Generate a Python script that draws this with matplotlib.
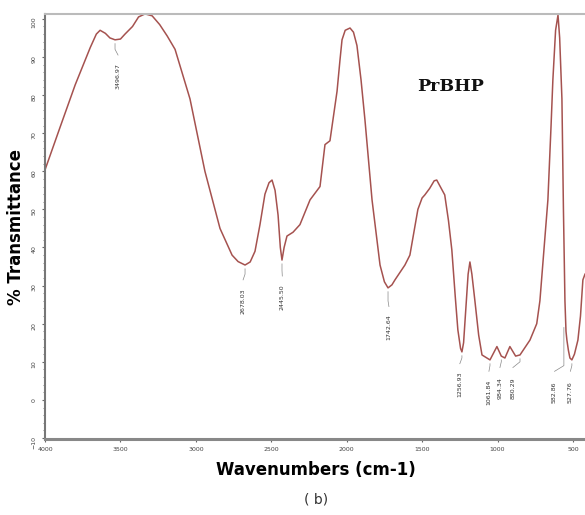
import matplotlib.pyplot as plt
from matplotlib.ticker import MultipleLocator

# spectrum: wavenumber (cm-1) and % transmittance
wavenumber = [4000, 3900, 3800, 3700, 3660, 3635, 3600, 3570, 3536, 3500, 3470,
              3420, 3380, 3337, 3290, 3240, 3190, 3138, 3039, 2940, 2840, 2760,
              2720, 2674, 2640, 2608, 2575, 2542, 2515, 2495, 2475, 2455, 2440,
              2429, 2415, 2396, 2356, 2310, 2243, 2177, 2144, 2111, 2064, 2045,
              2031, 2010, 1978, 1955, 1932, 1905, 1879, 1832, 1779, 1750, 1726,
              1700, 1680, 1614, 1581, 1528, 1500, 1482, 1450, 1420, 1403, 1380,
              1350, 1325, 1303, 1280, 1263, 1245, 1236, 1225, 1210, 1195, 1183,
              1170, 1150, 1125, 1103, 1050, 1004, 975, 951, 918, 880, 851, 785,
              740, 719, 666, 645, 633, 615, 599, 588, 573, 563, 553, 546, 540,
              530, 520, 507, 490, 467, 450, 434, 420]
transmittance = [60.4, 71.6, 82.7, 92.5, 96, 97, 96.2, 95, 94.5, 94.7, 96,
                 98, 100.5, 101.3, 100.8, 98.5, 95.5, 92, 79, 60, 45, 38,
                 36.3, 35.4, 36.2, 39, 46, 54, 57, 57.7, 55, 48.5, 40,
                 36.7, 40, 43, 44, 46, 52.5, 56, 67, 68, 81, 89,
                 94.5, 97, 97.6, 96.5, 93, 84, 73.5, 52.5, 35.4, 31, 29.4,
                 30.2, 31.5, 35.4, 38, 50, 53, 53.8, 55.5, 57.5, 57.7, 56,
                 53.8, 47, 39.4, 27, 18.4, 13.5, 12.6, 15, 24, 33, 36.2,
                 33, 26, 17, 11.8, 10.5, 14, 11.5, 11, 14, 11.5, 11.8, 15.7,
                 20, 26, 52.5, 72, 84, 97, 101, 95, 79, 50, 26, 18, 15.7,
                 13, 11, 10.5, 12, 15.7, 22, 31.5, 33]

# peak labels: text, wavenumber of the mark, curve value, label centre
peak_names = ["3496.97", "2678.03", "2445.50", "1742.64", "1256.93",
              "1061.84", "984.34", "880.29", "582.86", "527.76"]
peak_x = [3536, 2674, 2429, 1726, 1236, 1050, 975, 851, 560, 507]
peak_y = [94.5, 35.4, 36.7, 29.4, 12.6, 10.5, 11.5, 11.8, 20, 10.5]
label_x = [3516, 2687, 2427, 1720, 1250, 1057, 984, 898, 622, 517]
label_y = [85, 26, 27, 19, 4, 2, 3, 3, 2, 2]

y_ticks = [-10, 0, 10, 20, 30, 40, 50, 60, 70, 80, 90, 100]
x_ticks = [4000, 3500, 3000, 2500, 2000, 1500, 1000, 500]

fig = plt.figure(figsize=(5.85, 5.15), dpi=100)
ax = fig.add_axes([0.077, 0.148, 0.923, 0.825])

ax.plot(wavenumber, transmittance, color="#a5524f", lw=1.1)

for name, px, py, lx, ly in zip(peak_names, peak_x, peak_y, label_x, label_y):
    ax.plot([px, px, lx], [py - 1, ly + 7, ly + 5.5], color="#888888", lw=0.5)
    ax.text(lx, ly, name, rotation=90, fontsize=4.5, color="#333333",
            ha="center", va="center")

ax.set_xlim(4000, 420)
ax.set_ylim(-10.2, 101.3)
ax.set_xticks(x_ticks)
ax.set_yticks(y_ticks)
ax.yaxis.set_minor_locator(MultipleLocator(2))
ax.tick_params(axis="both", labelsize=4.5, labelcolor="#444444", colors="#666666",
               length=2.5, width=0.8)
ax.tick_params(axis="y", which="minor", length=1.5, color="#777777")
ax.tick_params(axis="y", labelrotation=90)

ax.spines["left"].set_color("#777777")
ax.spines["left"].set_linewidth(1.5)
ax.spines["bottom"].set_color("#888888")
ax.spines["bottom"].set_linewidth(2.2)
ax.spines["top"].set_color("#bbbbbb")
ax.spines["top"].set_linewidth(1.5)
ax.spines["right"].set_visible(False)

ax.text(1530, 81, "PrBHP", fontsize=12.5, fontweight="bold", family="DejaVu Serif",
        color="#111111")

fig.text(0.028, 0.56, "% Transmittance", rotation=90, fontsize=12,
         fontweight="bold", ha="center", va="center")
fig.text(0.54, 0.087, "Wavenumbers (cm-1)", fontsize=12, fontweight="bold",
         ha="center", va="center")
fig.text(0.54, 0.03, "( b)", fontsize=10, ha="center", va="center", color="#333333")

fig.savefig("out.png", dpi=100)
